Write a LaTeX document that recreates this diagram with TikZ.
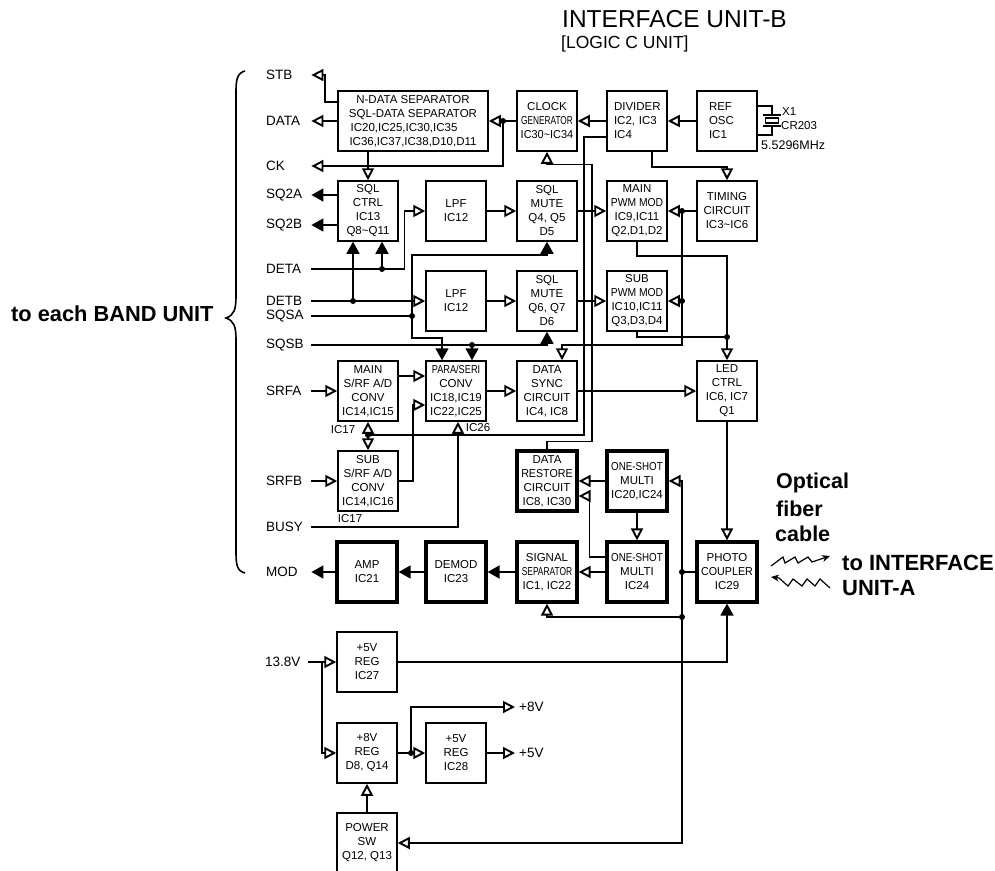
\documentclass[tikz,border=0pt]{standalone}
\usepackage{fontspec}
\usepackage{graphicx}
\usetikzlibrary{arrows.meta}
\setmainfont{Liberation Sans}
\newcommand{\boxfont}{\fontsize{11.5}{14}\selectfont}
\newcommand{\sigfont}{\fontsize{13.5}{15}\selectfont}
\newcommand{\bigfont}{\fontsize{21.5}{26}\selectfont\bfseries}
\newcommand{\squeeze}[2]{\scalebox{#1}[1]{#2}}
\tikzset{
  wire/.style={line width=1.6pt},
  openarrow/.style={wire,-{Triangle[open,length=12pt,width=12pt,line width=1.9pt]}},
  solidarrow/.style={wire,-{Triangle[length=12pt,width=13pt]}},
  unitbox/.style={draw,line width=1.5pt,minimum width=60pt,minimum height=60pt,
    inner sep=0pt,align=center,font=\boxfont},
  heavybox/.style={unitbox,line width=3.2pt},
  siglabel/.style={anchor=west,inner sep=0pt,text width=45pt,align=left,font=\sigfont},
  smalllabel/.style={inner sep=0pt,font=\boxfont},
  bolddot/.style={circle,fill,inner sep=0pt,minimum size=6pt},
  biglabel/.style={anchor=west,inner sep=0pt,font=\bigfont}
}
\begin{document}
\begin{tikzpicture}[x=1pt,y=-1pt]
  \useasboundingbox (0,0) rectangle (995,870);
  \node[anchor=west,inner sep=0pt,font=\fontsize{24.5}{28}\selectfont] (title) at (562,19) {INTERFACE UNIT-B};
  \node[anchor=west,inner sep=0pt,font=\fontsize{17.5}{20}\selectfont] (subtitle) at (561,44) {[LOGIC C UNIT]};
  \node[biglabel,font=\fontsize{21.8}{26}\selectfont\bfseries] (band) at (11,314) {to each BAND UNIT};
  \draw[wire] (245,71) .. controls (237,73) and (236,80) .. (236,92) -- (236,296)
    .. controls (236,310) and (234,315) .. (226,318) .. controls (234,321) and (236,326) .. (236,340)
    -- (236,552) .. controls (236,565) and (237,571) .. (245,573);

  \foreach \n/\x/\y/\txt in {
    clock/547/121/{CLOCK\\\squeeze{.72}{GENERATOR}\\\squeeze{.95}{IC30\textasciitilde IC34}},
    sqlctrl/368/211/{SQL\\CTRL\\IC13\\Q8\textasciitilde Q11},
    lpfa/456/211/{LPF\\IC12},
    mutea/547/211/{SQL\\MUTE\\Q4, Q5\\D5},
    pwma/637/211/{MAIN\\\squeeze{.9}{PWM MOD}\\IC9,IC11\\Q2,D1,D2},
    timing/727/211/{TIMING\\CIRCUIT\\IC3\textasciitilde IC6},
    lpfb/456/301/{LPF\\IC12},
    muteb/547/301/{SQL\\MUTE\\Q6, Q7\\D6},
    pwmb/637/301/{SUB\\\squeeze{.9}{PWM MOD}\\IC10,IC11\\Q3,D3,D4},
    srfmain/368/391/{MAIN\\S/RF A/D\\CONV\\IC14,IC15},
    para/456/391/{\squeeze{.8}{PARA/SERI}\\CONV\\IC18,IC19\\IC22,IC25},
    sync/547/391/{DATA\\SYNC\\CIRCUIT\\IC4, IC8},
    led/727/391/{LED\\CTRL\\IC6, IC7\\Q1},
    srfsub/368/481/{SUB\\S/RF A/D\\CONV\\IC14,IC16},
    regfive/367/662/{+5V\\REG\\IC27},
    regeight/367/753/{+8V\\REG\\D8, Q14},
    regsmall/456/753/{+5V\\REG\\IC28},
    power/367/843/{POWER\\SW\\Q12, Q13}}{
    \node[unitbox] (\n) at (\x,\y) {\txt};
  }
  \foreach \n/\x/\y/\txt in {
    restore/547/481/{DATA\\\squeeze{.93}{RESTORE}\\CIRCUIT\\IC8, IC30},
    shotup/637/481/{\squeeze{.85}{ONE-SHOT}\\MULTI\\IC20,IC24},
    shotlow/637/572/{\squeeze{.85}{ONE-SHOT}\\MULTI\\IC24},
    sep/547/572/{SIGNAL\\\squeeze{.73}{SEPARATOR}\\IC1, IC22},
    photo/727/572/{PHOTO\\\squeeze{.93}{COUPLER}\\IC29},
    amp/367/572/{AMP\\IC21},
    demod/456/572/{DEMOD\\IC23}}{
    \node[heavybox] (\n) at (\x,\y) {\txt};
  }
  \node[unitbox,minimum width=150pt] (ndata) at (413,121)
    {N-DATA SEPARATOR\\SQL-DATA SEPARATOR\\IC20,IC25,IC30,IC35\phantom{,D1}\\IC36,IC37,IC38,D10,D11};
  \node[unitbox,text width=46pt,align=left] (divider) at (637,121) {DIVIDER\\IC2, IC3\\IC4};
  \node[unitbox,text width=36pt,align=left] (refosc) at (727,121) {REF\\OSC\\IC1};

  \foreach \n/\y/\txt in {
    stb/75/STB, data/121/DATA, ck/166/CK, sqa/195/SQ2A, sqb/225/SQ2B, deta/269/DETA,
    detb/301/DETB, sqsa/316/SQSA, sqsb/345/SQSB, srfa/391/SRFA, srfb/481/SRFB,
    busy/527/BUSY, mod/572/MOD}{
    \node[siglabel] (\n) at (266,\y) {\txt};
  }
  \node[siglabel,text width=43pt] (supply) at (265,662) {13.8V};
  \node[anchor=west,inner xsep=4pt,inner ysep=0pt,font=\sigfont] (eightv) at (515,707) {+8V};
  \node[anchor=west,inner xsep=4pt,inner ysep=0pt,font=\sigfont] (fivev) at (515,753) {+5V};

  \node[smalllabel] (icleft) at (343,430) {IC17};
  \node[smalllabel] (icsub) at (350,519) {IC17};
  \node[smalllabel] (icpara) at (478,428) {IC26};
  \node[smalllabel,anchor=west] (xone) at (782,112) {X1};
  \node[smalllabel,anchor=west] (crystal) at (781,126) {CR203};
  \node[smalllabel,anchor=west,font=\fontsize{12.5}{14}\selectfont] (freq) at (761,145) {5.5296MHz};

  \foreach \n/\x/\y in {
    jclock/503/121, jdeta/382/269, jdetb/353/301, jsqsa/412/316, jsqsb/472/345, jbus/368/435,
    jtiming/682/211, jpwm/682/301, jled/727/337, jphoto/682/572, jsep/682/617, jreg/411/753}{
    \node[bolddot] (\n) at (\x,\y) {};
  }
  \coordinate (jsupply) at (322,662);

  \foreach \a/\b in {
    clock.west/ndata.east, ndata.west/data.east, divider.west/clock.east, refosc.west/divider.east,
    lpfa.east/mutea.west, lpfb.east/muteb.west, mutea.east/pwma.west, muteb.east/pwmb.west,
    timing.west/pwma.east, jpwm.center/pwmb.east, detb.east/lpfb.west, para.east/sync.west,
    sync.east/led.west, srfa.east/srfmain.west, srfb.east/srfsub.west, led.south/photo.north,
    shotup.south/shotlow.north, shotup.west/restore.east, shotlow.west/sep.east,
    supply.east/regfive.west, power.north/regeight.south, regeight.east/regsmall.west,
    regsmall.east/fivev.west, jbus.center/srfmain.south, jbus.center/srfsub.north}{
    \draw[openarrow] (\a) -- (\b);
  }
  \foreach \a/\b in {amp.west/mod.east, demod.west/amp.east, sep.west/demod.east}{
    \draw[solidarrow] (\a) -- (\b);
  }
  \draw[openarrow] ([yshift=19pt]ndata.west) -- ++(-12,0) |- (stb.east);
  \draw[openarrow] (jclock.center) |- (ck.east);
  \draw[openarrow] (sqlctrl.north |- ndata.south) -- (sqlctrl.north);
  \draw[solidarrow] (sqlctrl.west |- sqa.east) -- (sqa.east);
  \draw[solidarrow] (sqlctrl.west |- sqb.east) -- (sqb.east);
  \draw[openarrow] (deta.east) -- ++(93,0) |- (lpfa.west);
  \draw[solidarrow] (jdeta.center) -- (jdeta.center |- sqlctrl.south);
  \draw[solidarrow] (jdetb.center) -- (jdetb.center |- sqlctrl.south);
  \draw[wire] (sqsa.east) -- (jsqsa.center);
  \draw[solidarrow] (jsqsa.center) -- ++(0,-61) -| (mutea.south);
  \draw[solidarrow] (jsqsa.center) -- ++(0,22) -| ([xshift=-14pt]para.north);
  \draw[solidarrow] (sqsb.east) -| (muteb.south);
  \draw[solidarrow] (jsqsb.center) -- (jsqsb.center |- para.north);
  \draw[openarrow] ([yshift=15pt]srfmain.east) -- ([yshift=15pt]para.west);
  \draw[openarrow] (srfsub.east) -- ++(14,0) |- ([yshift=-14pt]para.west);
  \draw[openarrow] (busy.east) -| ([xshift=2pt]para.south);
  \draw[wire] ([yshift=-16pt]divider.west) -- ++(-22,0) |- (jbus.center);
  \draw[openarrow] (restore.north) -- ++(0,-8) -- ++(45,0) -- ++(0,-277) -| (clock.south);
  \draw[openarrow] ([xshift=15pt]divider.south) -- ++(0,15) -| (timing.north);
  \draw[wire] (jtiming.center) -- (jpwm.center);
  \draw[openarrow] (jpwm.center) -- ++(0,44) -| ([xshift=15pt]sync.north);
  \draw[openarrow] (pwma.south) -- ++(0,14) -| (led.north);
  \draw[wire] (pwmb.south) |- (jled.center);
  \draw[openarrow] ([yshift=15pt]shotlow.west) -- ++(-16,0) |- ([yshift=-15pt]restore.east);
  \draw[wire] (photo.west) -- (jphoto.center);
  \draw[openarrow] (jphoto.center) |- (shotup.east);
  \draw[openarrow] (jphoto.center) |- (power.east);
  \draw[openarrow] (jsep.center) -| (sep.south);
  \draw[solidarrow] (regfive.east) -| (photo.south);
  \draw[wire] (supply.east -| jsupply) -- (jsupply);
  \draw[openarrow] (jsupply) |- (regeight.west);
  \draw[openarrow] (jreg.center) |- (eightv.west);

  \node[draw,line width=1.6pt,minimum width=13pt,minimum height=5pt,inner sep=0pt] (xtal) at (772,120.5) {};
  \draw[wire] ([yshift=15pt]refosc.east) -| (772,115);
  \draw[wire] ([yshift=-14pt]refosc.east) -| (772,126);
  \draw[wire] (763,115) -- (781,115);
  \draw[wire] (763,126) -- (781,126);

  \node[biglabel] (fibera) at (776,483) {Optical};
  \node[biglabel] (fiberb) at (776,509) {fiber};
  \node[biglabel] (fiberc) at (775,534) {cable};
  \node[biglabel,font=\fontsize{22}{26}\selectfont\bfseries] (toiface) at (842,563) {to INTERFACE};
  \node[biglabel,font=\fontsize{22}{26}\selectfont\bfseries] (unita) at (842,588) {UNIT-A};
  \draw[line width=1.2pt,-{Stealth[length=8pt,width=7pt]}] (771,566) -- (783,557) -- (785,563) -- (795,557) -- (798,563)
    -- (808,557) -- (812,562) -- (830,556);
  \draw[line width=1.2pt,-{Stealth[length=8pt,width=7pt]}] (830,588) -- (820,579) -- (815,586) -- (807,579) -- (802,586)
    -- (793,579) -- (788,586) -- (779,578) -- (771,577);
\end{tikzpicture}
\end{document}
